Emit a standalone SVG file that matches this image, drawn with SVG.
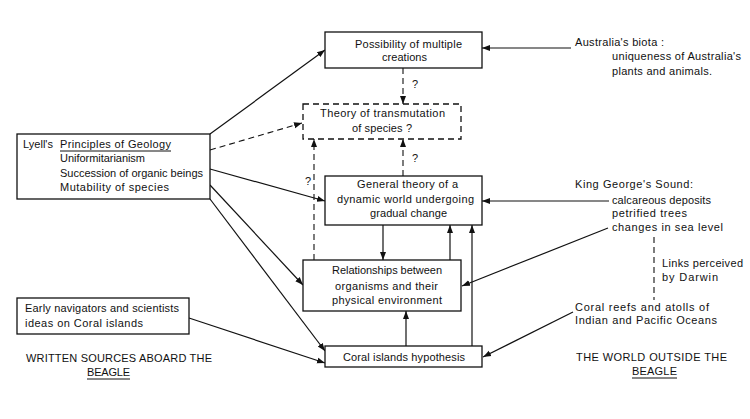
<svg xmlns="http://www.w3.org/2000/svg" width="750" height="419" viewBox="0 0 750 419">
<style>
text{font-family:"Liberation Sans",Arial,sans-serif;font-size:11px;fill:#111}
.box{fill:#fff;stroke:#111;stroke-width:1.3}
.dbox{fill:#fff;stroke:#111;stroke-width:1.3;stroke-dasharray:6,4}
.ln{fill:none;stroke:#111;stroke-width:1.2}
.dl{fill:none;stroke:#111;stroke-width:1.1;stroke-dasharray:6,4}
.ul{stroke:#111;stroke-width:1}
</style>
<defs>
<marker id="ah" markerUnits="userSpaceOnUse" markerWidth="9" markerHeight="8" refX="8" refY="4" orient="auto">
<path d="M0,1 L8,4 L0,7 Z" fill="#111"/>
</marker>
</defs>
<rect width="750" height="419" fill="#fff"/>
<g id="connectors">
<line class="ln" x1="210" y1="134" x2="325" y2="50" marker-end="url(#ah)"/>
<line class="dl" x1="210" y1="150" x2="302" y2="123" marker-end="url(#ah)"/>
<line class="ln" x1="210" y1="169" x2="325" y2="201" marker-end="url(#ah)"/>
<line class="ln" x1="210" y1="185" x2="303" y2="285" marker-end="url(#ah)"/>
<line class="ln" x1="210" y1="199" x2="325" y2="351" marker-end="url(#ah)"/>
<line class="ln" x1="189" y1="318" x2="325" y2="363" marker-end="url(#ah)"/>
<line class="dl" x1="403" y1="68" x2="403" y2="104" marker-end="url(#ah)"/>
<line class="dl" x1="403" y1="176" x2="403" y2="139" marker-end="url(#ah)"/>
<line class="dl" x1="314" y1="260" x2="314" y2="139" marker-end="url(#ah)"/>
<line class="ln" x1="383" y1="225" x2="383" y2="260" marker-end="url(#ah)"/>
<line class="ln" x1="450" y1="260" x2="450" y2="225" marker-end="url(#ah)"/>
<line class="ln" x1="472" y1="346" x2="472" y2="225" marker-end="url(#ah)"/>
<line class="ln" x1="406" y1="346" x2="406" y2="311" marker-end="url(#ah)"/>
<line class="ln" x1="571" y1="48" x2="482" y2="48" marker-end="url(#ah)"/>
<line class="ln" x1="609" y1="201" x2="482" y2="201" marker-end="url(#ah)"/>
<line class="ln" x1="608" y1="228" x2="462" y2="286" marker-end="url(#ah)"/>
<line class="ln" x1="573" y1="312" x2="483" y2="357" marker-end="url(#ah)"/>
<line class="dl" x1="654" y1="237" x2="654" y2="300"/>
<text x="412" y="88">?</text>
<text x="412" y="162">?</text>
<text x="305" y="185">?</text>
</g>
<g id="possibility">
<rect class="box" x="325" y="32" width="157" height="36"/>
<text x="355" y="48" textLength="107" lengthAdjust="spacing">Possibility of multiple</text>
<text x="382" y="61" textLength="45" lengthAdjust="spacing">creations</text>
</g>
<g id="theory">
<rect class="dbox" x="303" y="104" width="158" height="35"/>
<text x="320" y="117" textLength="125" lengthAdjust="spacing">Theory of transmutation</text>
<text x="352" y="132" textLength="60" lengthAdjust="spacing">of species ?</text>
</g>
<g id="lyell">
<rect class="box" x="17" y="134" width="193" height="65"/>
<text x="23" y="148" textLength="30" lengthAdjust="spacing">Lyell's</text>
<text x="60" y="148" textLength="111" lengthAdjust="spacing">Principles of Geology</text>
<line class="ul" x1="60" y1="151" x2="171" y2="151"/>
<text x="60" y="162" textLength="85" lengthAdjust="spacing">Uniformitarianism</text>
<text x="60" y="177" textLength="143" lengthAdjust="spacing">Succession of organic beings</text>
<text x="60" y="191" textLength="109" lengthAdjust="spacing">Mutability of species</text>
</g>
<g id="general">
<rect class="box" x="325" y="176" width="157" height="49"/>
<text x="357" y="188" textLength="101" lengthAdjust="spacing">General theory of a</text>
<text x="337" y="203" textLength="137" lengthAdjust="spacing">dynamic world undergoing</text>
<text x="370" y="217" textLength="77" lengthAdjust="spacing">gradual change</text>
</g>
<g id="relationships">
<rect class="box" x="303" y="260" width="158" height="51"/>
<text x="332" y="274" textLength="110" lengthAdjust="spacing">Relationships between</text>
<text x="335" y="290" textLength="103" lengthAdjust="spacing">organisms and their</text>
<text x="332" y="304" textLength="110" lengthAdjust="spacing">physical environment</text>
</g>
<g id="coral">
<rect class="box" x="325" y="346" width="157" height="21"/>
<text x="343" y="361" textLength="122" lengthAdjust="spacing">Coral islands hypothesis</text>
</g>
<g id="early">
<rect class="box" x="17" y="298" width="172" height="36"/>
<text x="25" y="312" textLength="154" lengthAdjust="spacing">Early navigators and scientists</text>
<text x="25" y="327" textLength="118" lengthAdjust="spacing">ideas on Coral islands</text>
</g>
<g id="written">
<text x="26" y="362" textLength="186" lengthAdjust="spacing">WRITTEN SOURCES ABOARD THE</text>
<text x="87" y="376" textLength="43" lengthAdjust="spacing">BEAGLE</text>
<line class="ul" x1="87" y1="379" x2="130" y2="379"/>
</g>
<g id="australia">
<text x="575" y="46" textLength="89" lengthAdjust="spacing">Australia's biota :</text>
<text x="612" y="60" textLength="129" lengthAdjust="spacing">uniqueness of Australia's</text>
<text x="612" y="75" textLength="100" lengthAdjust="spacing">plants and animals.</text>
</g>
<g id="kinggeorge">
<text x="575" y="188" textLength="118" lengthAdjust="spacing">King George's Sound:</text>
<text x="612" y="204" textLength="99" lengthAdjust="spacing">calcareous deposits</text>
<text x="612" y="217" textLength="75" lengthAdjust="spacing">petrified trees</text>
<text x="612" y="231" textLength="111" lengthAdjust="spacing">changes in sea level</text>
</g>
<g id="links">
<text x="662" y="267" textLength="81" lengthAdjust="spacing">Links perceived</text>
<text x="662" y="281" textLength="56" lengthAdjust="spacing">by Darwin</text>
</g>
<g id="reefs">
<text x="575" y="311" textLength="134" lengthAdjust="spacing">Coral reefs and atolls of</text>
<text x="575" y="324" textLength="142" lengthAdjust="spacing">Indian and Pacific Oceans</text>
</g>
<g id="world">
<text x="576" y="361" textLength="151" lengthAdjust="spacing">THE WORLD OUTSIDE THE</text>
<text x="632" y="375" textLength="45" lengthAdjust="spacing">BEAGLE</text>
<line class="ul" x1="632" y1="378" x2="677" y2="378"/>
</g>
</svg>
